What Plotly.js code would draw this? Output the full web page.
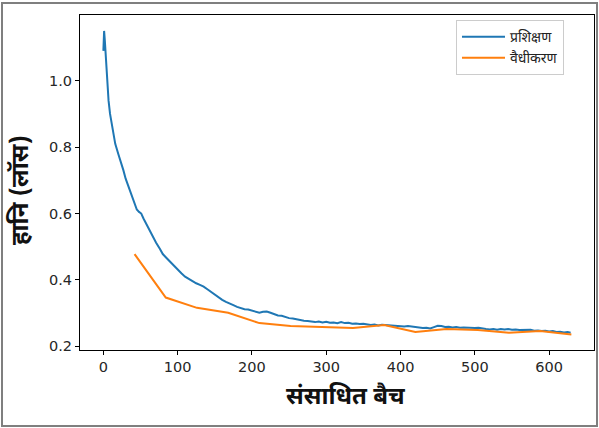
<!DOCTYPE html>
<html>
<head>
<meta charset="utf-8">
<script src="https://cdn.plot.ly/plotly-3.0.1.min.js"></script>
<style>
html,body{margin:0;padding:0;background:#fff;}
#wrap{position:relative;width:599px;height:428px;}
#chart{width:599px;height:428px;}
#frame{position:absolute;left:1px;top:2px;width:597px;height:425px;border:2px solid #7f7f7f;box-sizing:border-box;pointer-events:none;}
</style>
</head>
<body>
<div id="wrap"><div id="chart"></div><div id="frame"></div></div>
<script>
const trainBatch = [0,1,2,3,5,7,9,11,13,16,20,24,27,30,34,38,42,45,48,51,54,57,60,63,67,71,76,80,85,90,95,100,105,110,115,120,125,130,135,140,145,150,155,160,165,170,175,180,185,190,195,200,205,210,215,220,225,230,235,240,245,250,255,260,265,270,275,280,285,290,295,300,305,310,315,320,325,330,335,340,345,350,355,360,365,370,375,380,385,390,395,400,405,410,415,420,425,430,435,440,445,450,455,460,465,470,475,480,485,490,495,500,505,510,515,520,525,530,535,540,545,550,555,560,565,570,575,580,585,590,595,600,605,610,615,620,625,629];
const trainLoss = [1.09,1.15,1.12,1.08,1.00,0.94,0.90,0.87,0.845,0.81,0.78,0.755,0.73,0.705,0.68,0.655,0.63,0.612,0.605,0.600,0.585,0.572,0.558,0.543,0.527,0.512,0.494,0.478,0.466,0.454,0.442,0.432,0.420,0.410,0.403,0.396,0.390,0.385,0.380,0.372,0.364,0.355,0.347,0.340,0.334,0.328,0.324,0.319,0.315,0.312,0.311,0.308,0.304,0.301,0.304,0.305,0.301,0.296,0.293,0.292,0.288,0.285,0.284,0.281,0.280,0.277,0.276,0.274,0.273,0.275,0.272,0.274,0.271,0.272,0.270,0.273,0.270,0.271,0.268,0.269,0.267,0.268,0.265,0.264,0.266,0.263,0.265,0.264,0.263,0.262,0.263,0.261,0.260,0.261,0.259,0.257,0.256,0.255,0.256,0.254,0.258,0.262,0.261,0.258,0.259,0.257,0.258,0.256,0.257,0.256,0.257,0.255,0.256,0.253,0.252,0.251,0.252,0.250,0.252,0.251,0.252,0.250,0.251,0.249,0.250,0.249,0.250,0.247,0.248,0.246,0.247,0.245,0.246,0.243,0.244,0.242,0.243,0.241];
const valBatch = [42,84,126,168,210,252,294,336,378,420,462,504,546,588,630];
const valLoss = [0.478,0.347,0.316,0.301,0.270,0.261,0.258,0.255,0.264,0.243,0.252,0.249,0.241,0.246,0.236];
const seriesNames = ["प्रशिक्षण","वैधीकरण"];
const xTitle = "संसाधित बैच";
const yTitle = "हानि (लॉस)";
const xTicks = [0,100,200,300,400,500,600];
const yTicks = [0.2,0.4,0.6,0.8,1.0];

const devFont = '"Noto Sans Devanagari","Lohit Devanagari","Noto Sans","DejaVu Sans",sans-serif';
const tickFont = {family:'"DejaVu Sans",sans-serif', size:14.5, color:'#262626'};

const data = [
  {x:trainBatch, y:trainLoss, type:'scatter', mode:'lines', name:seriesNames[0], line:{color:'#1f77b4', width:2}},
  {x:valBatch, y:valLoss, type:'scatter', mode:'lines', name:seriesNames[1], line:{color:'#ff7f0e', width:2}}
];
const axisCommon = {showline:true, mirror:true, linecolor:'#000', linewidth:1, ticks:'outside', ticklen:4, tickcolor:'#000', showgrid:false, zeroline:false, tickfont:tickFont};
const layout = {
  width:599, height:428,
  margin:{l:80, r:5, t:15, b:78},
  paper_bgcolor:'#fff', plot_bgcolor:'#fff',
  showlegend:true,
  legend:{x:0.7315, y:0.985, xanchor:'left', yanchor:'top', bordercolor:'#cccccc', borderwidth:1, bgcolor:'rgba(255,255,255,0.8)', font:{family:devFont, size:14, color:'#222'}, itemwidth:43, tracegroupgap:0},
  xaxis:Object.assign({}, axisCommon, {range:[-31.45,660.45], tickvals:xTicks, ticktext:xTicks.map(String)}),
  yaxis:Object.assign({}, axisCommon, {range:[0.189,1.198], tickvals:yTicks, ticktext:yTicks.map(v=>v.toFixed(1))}),
  annotations:[
    {text:'<b>'+xTitle+'</b>', xref:'paper', yref:'paper', x:0.5175, y:-0.143, xanchor:'center', yanchor:'middle', showarrow:false, font:{family:devFont, size:24, color:'#111'}},
    {text:'<b>'+yTitle+'</b>', xref:'paper', yref:'paper', x:-0.1128, y:0.4776, xanchor:'center', yanchor:'middle', textangle:-90, showarrow:false, font:{family:devFont, size:24, color:'#111'}}
  ]
};
Plotly.newPlot('chart', data, layout, {displayModeBar:false, staticPlot:true});
</script>
</body>
</html>
